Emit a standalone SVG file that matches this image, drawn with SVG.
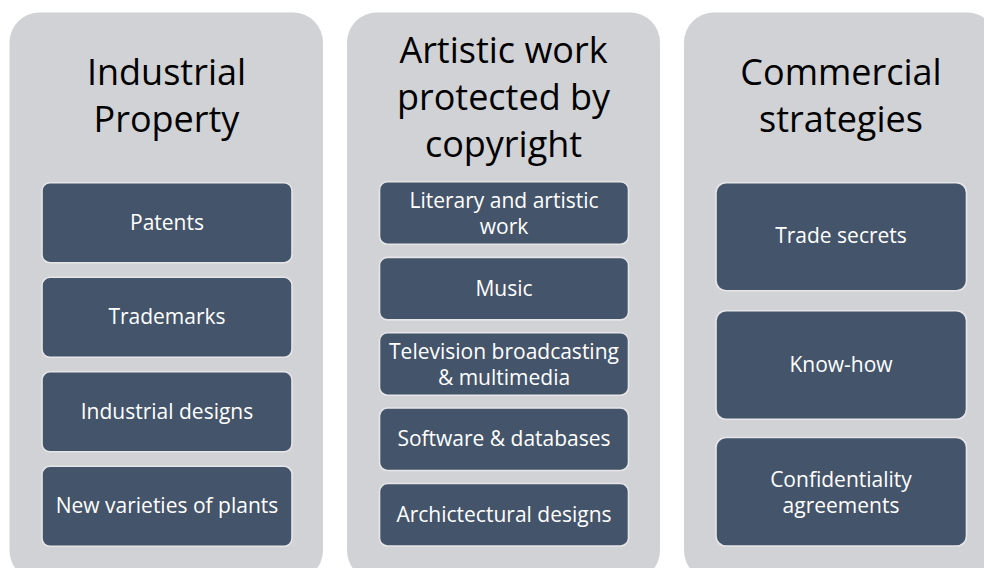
<svg xmlns="http://www.w3.org/2000/svg" width="984" height="568" viewBox="0 0 984 568">
<style>
.panel{fill:#d1d2d5;}
.box{fill:#44546a;stroke:#e6e6e8;stroke-width:1.6;}
.title{font-family:"Open Sans","Noto Sans",sans-serif;font-size:36px;fill:#000;text-anchor:middle;}
.lbl{font-family:"Open Sans","Noto Sans",sans-serif;font-size:21px;fill:#fff;text-anchor:middle;}
</style>
<rect width="984" height="568" fill="#fff"/>
<g id="col-industrial">
<rect class="panel" x="9.5" y="12.5" width="313.5" height="568" rx="30"/>
<text class="title" x="166.5" y="85">Industrial</text>
<text class="title" x="166.5" y="131.7">Property</text>
<g id="patents"><rect class="box" x="42" y="182.7" width="250" height="80" rx="8"/><text class="lbl" x="167" y="229.5">Patents</text></g>
<g id="trademarks"><rect class="box" x="42" y="277.3" width="250" height="80" rx="8"/><text class="lbl" x="167" y="324.2">Trademarks</text></g>
<g id="industrial-designs"><rect class="box" x="42" y="371.8" width="250" height="80" rx="8"/><text class="lbl" x="167" y="418.8">Industrial designs</text></g>
<g id="plants"><rect class="box" x="42" y="466.3" width="250" height="80" rx="8"/><text class="lbl" x="167" y="513.3">New varieties of plants</text></g>
</g>
<g id="col-artistic">
<rect class="panel" x="347" y="12.5" width="313" height="568" rx="30"/>
<text class="title" x="503.5" y="62.7">Artistic work</text>
<text class="title" x="503.5" y="110">protected by</text>
<text class="title" x="503.5" y="156.7">copyright</text>
<g id="literary"><rect class="box" x="379.5" y="181.7" width="249" height="62.5" rx="8"/><text class="lbl" x="504" y="208.3">Literary and artistic</text><text class="lbl" x="504" y="234.3">work</text></g>
<g id="music"><rect class="box" x="379.5" y="257.4" width="249" height="62.5" rx="8"/><text class="lbl" x="504" y="295.7">Music</text></g>
<g id="television"><rect class="box" x="379.5" y="332.7" width="249" height="62.5" rx="8"/><text class="lbl" x="504" y="359">Television broadcasting</text><text class="lbl" x="504" y="385">&amp; multimedia</text></g>
<g id="software"><rect class="box" x="379.5" y="408" width="249" height="62.5" rx="8"/><text class="lbl" x="504" y="446">Software &amp; databases</text></g>
<g id="architectural"><rect class="box" x="379.5" y="483.5" width="249" height="62.5" rx="8"/><text class="lbl" x="504" y="522.3">Archictectural designs</text></g>
</g>
<g id="col-commercial">
<rect class="panel" x="684" y="12.5" width="313" height="568" rx="30"/>
<text class="title" x="841" y="85">Commercial</text>
<text class="title" x="841" y="131.7">strategies</text>
<g id="trade-secrets"><rect class="box" x="716" y="182.7" width="250.5" height="108" rx="10"/><text class="lbl" x="841" y="243.3">Trade secrets</text></g>
<g id="know-how"><rect class="box" x="716" y="310.8" width="250.5" height="108.5" rx="10"/><text class="lbl" x="841" y="371.8">Know-how</text></g>
<g id="confidentiality"><rect class="box" x="716" y="437.5" width="250.5" height="108.5" rx="10"/><text class="lbl" x="841" y="486.7">Confidentiality</text><text class="lbl" x="841" y="512.5">agreements</text></g>
</g>
<g id="connectors"/>
</svg>
